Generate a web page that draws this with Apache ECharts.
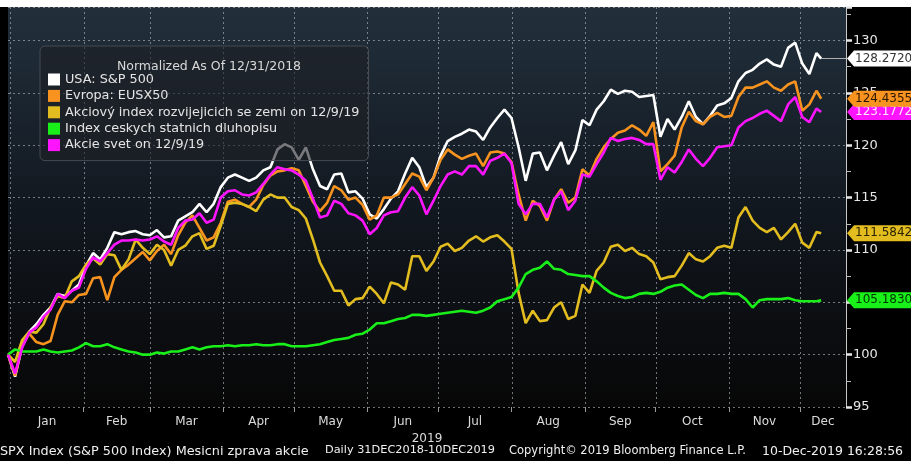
<!DOCTYPE html>
<html>
<head>
<meta charset="utf-8">
<script src="https://cdn.jsdelivr.net/npm/echarts@6/dist/echarts.min.js"></script>
<style>
html, body { margin: 0; padding: 0; background: #000; }
#chart { width: 911px; height: 461px; }
</style>
</head>
<body>
<div id="chart"></div>
<script>
// dates (every 3 days, last point 10 Dec)
var dates = ['2018-12-31',
	'2019-01-03','2019-01-06','2019-01-09','2019-01-12','2019-01-15','2019-01-18','2019-01-21','2019-01-24','2019-01-27','2019-01-30',
	'2019-02-02','2019-02-05','2019-02-08','2019-02-11','2019-02-14','2019-02-17','2019-02-20','2019-02-23','2019-02-26',
	'2019-03-01','2019-03-04','2019-03-07','2019-03-10','2019-03-13','2019-03-16','2019-03-19','2019-03-22','2019-03-25','2019-03-28','2019-03-31',
	'2019-04-03','2019-04-06','2019-04-09','2019-04-12','2019-04-15','2019-04-18','2019-04-21','2019-04-24','2019-04-27','2019-04-30',
	'2019-05-03','2019-05-06','2019-05-09','2019-05-12','2019-05-15','2019-05-18','2019-05-21','2019-05-24','2019-05-27','2019-05-30',
	'2019-06-02','2019-06-05','2019-06-08','2019-06-11','2019-06-14','2019-06-17','2019-06-20','2019-06-23','2019-06-26','2019-06-29',
	'2019-07-02','2019-07-05','2019-07-08','2019-07-11','2019-07-14','2019-07-17','2019-07-20','2019-07-23','2019-07-26','2019-07-29',
	'2019-08-01','2019-08-04','2019-08-07','2019-08-10','2019-08-13','2019-08-16','2019-08-19','2019-08-22','2019-08-25','2019-08-28','2019-08-31',
	'2019-09-03','2019-09-06','2019-09-09','2019-09-12','2019-09-15','2019-09-18','2019-09-21','2019-09-24','2019-09-27','2019-09-30',
	'2019-10-03','2019-10-06','2019-10-09','2019-10-12','2019-10-15','2019-10-18','2019-10-21','2019-10-24','2019-10-27','2019-10-30',
	'2019-11-02','2019-11-05','2019-11-08','2019-11-11','2019-11-14','2019-11-17','2019-11-20','2019-11-23','2019-11-26','2019-11-29',
	'2019-12-02','2019-12-05','2019-12-08','2019-12-10'];

// USA: S&P 500
var spx = [100.0,
	97.9,100.8,102.2,102.9,103.8,104.5,105.8,105.6,106.1,106.7,
	108.5,109.7,109.1,110.2,111.7,111.5,111.7,111.8,111.5,
	111.4,111.9,111.2,111.3,112.8,113.2,113.6,114.4,113.6,114.4,116.0,
	116.9,117.2,116.9,116.6,116.9,117.6,117.9,119.6,120.1,119.8,
	118.6,119.8,117.7,116.1,115.8,117.2,117.3,115.5,115.6,114.9,
	113.4,113.0,113.9,114.9,115.6,117.3,118.8,117.9,116.0,116.9,
	119.0,120.4,120.8,121.1,121.5,121.3,120.5,121.7,122.6,123.4,
	122.6,119.8,116.6,119.2,119.3,117.6,119.0,120.3,118.2,119.5,122.4,
	121.9,123.4,124.2,125.3,124.9,125.2,125.1,124.6,124.7,124.8,
	120.8,122.5,121.5,122.7,124.2,122.7,122.0,122.8,123.8,124.0,
	124.5,126.1,126.9,127.2,127.8,128.2,127.7,127.5,129.3,129.8,
	127.8,126.8,128.8,128.2720];

// Evropa: EUSX50
var eusx50 = [100.0,
	98.0,100.9,102.0,101.2,101.0,101.3,103.8,105.1,105.0,105.7,
	105.8,107.3,107.4,105.2,107.4,108.1,108.6,109.2,109.8,
	109.0,109.9,110.5,109.6,111.4,112.6,113.3,112.1,110.9,111.2,112.6,
	114.6,114.8,114.4,114.1,114.8,116.2,117.1,117.5,117.6,117.8,
	117.6,116.1,114.6,113.7,114.5,116.1,115.7,114.8,115.0,114.3,
	112.9,113.3,115.0,115.0,115.3,116.3,117.3,117.0,115.7,116.9,
	118.6,119.6,119.1,118.7,119.0,119.2,118.0,119.3,119.4,119.2,
	118.4,115.3,112.8,114.7,114.2,112.8,114.8,115.8,114.5,115.0,117.7,
	117.1,118.7,119.8,120.6,121.2,121.4,121.9,121.5,120.9,122.2,
	117.5,118.2,119.0,121.7,123.2,122.3,122.0,122.7,123.1,122.7,
	122.8,124.6,125.5,125.5,125.8,126.1,125.5,125.2,125.8,126.1,
	123.3,123.9,125.2,124.4355];

// Akciovy index rozvijejicich se zemi
var emIndex = [100.0,
	99.3,101.4,102.2,102.1,102.9,104.5,105.6,105.4,107.0,107.5,
	108.6,109.2,108.6,109.6,109.5,108.1,109.1,111.0,110.2,
	109.6,110.5,110.0,108.5,110.0,110.4,111.3,111.6,110.1,110.4,112.3,
	114.4,114.5,114.4,114.1,113.7,114.8,115.3,115.0,115.0,114.1,
	113.8,113.0,111.0,108.8,107.5,106.1,106.1,104.7,105.3,105.4,
	106.5,105.8,104.9,106.9,106.7,106.2,109.4,109.4,108.0,108.9,
	110.3,110.6,109.9,110.2,110.9,111.3,110.8,111.2,111.4,110.8,
	110.1,105.9,103.0,104.2,103.2,103.3,104.5,105.0,103.4,103.7,106.7,
	105.9,108.0,108.8,110.3,110.5,109.9,110.2,109.6,109.4,108.8,
	107.2,107.4,107.5,108.5,109.7,109.1,108.9,109.4,110.2,110.4,
	110.2,113.1,114.1,112.8,112.1,111.7,112.1,111.0,111.7,112.5,
	110.7,110.2,111.7,111.5842];

// Index ceskych statnich dluhopisu
var czBonds = [100.0,
	100.5,100.3,100.3,100.3,100.5,100.3,100.2,100.3,100.4,100.7,
	101.1,100.8,100.8,101.0,100.7,100.5,100.3,100.2,100.0,
	100.0,100.2,100.1,100.3,100.3,100.5,100.7,100.5,100.7,100.8,100.8,
	100.9,100.8,100.9,100.9,101.0,100.9,100.9,101.0,101.0,100.8,
	100.8,100.8,100.9,101.0,101.2,101.4,101.5,101.6,101.9,102.0,
	102.4,103.0,103.0,103.2,103.4,103.5,103.8,103.8,103.7,103.8,
	103.9,104.0,104.1,104.2,104.1,104.0,104.2,104.5,105.1,105.3,
	105.5,106.4,107.7,108.1,108.3,108.9,108.2,108.1,107.7,107.6,107.5,
	107.5,107.0,106.4,105.9,105.6,105.4,105.5,105.8,105.9,105.8,
	106.0,106.4,106.6,106.7,106.2,105.7,105.4,105.8,105.8,105.9,
	105.8,105.8,105.3,104.5,105.2,105.3,105.3,105.3,105.4,105.2,
	105.1,105.1,105.1,105.1830];

// Akcie svet
var worldEq = [100.0,
	98.2,100.7,102.1,102.6,103.6,104.3,105.8,105.4,106.1,106.4,
	108.2,109.3,108.9,109.7,110.5,110.9,110.9,111.0,110.9,
	111.0,111.3,110.8,110.5,112.1,112.8,112.9,113.5,112.6,112.9,115.0,
	115.6,115.7,115.3,115.2,115.5,116.3,117.2,117.9,117.7,117.6,
	117.2,116.6,114.9,113.1,113.3,114.7,114.4,113.5,113.3,112.8,
	111.5,112.1,113.3,113.6,113.7,115.0,116.0,115.2,113.4,114.7,
	116.1,117.2,117.5,117.2,118.0,118.0,117.2,118.5,118.8,119.2,
	118.3,114.4,113.4,114.4,114.4,113.1,114.8,115.6,113.8,114.7,117.2,
	117.0,118.2,119.3,120.7,120.4,120.6,120.7,120.5,120.1,120.1,
	116.7,117.9,117.4,118.4,119.6,118.7,118.0,118.8,119.8,119.9,
	120.0,121.7,122.3,122.6,123.0,123.3,122.8,122.3,123.9,124.6,
	122.7,122.2,123.5,123.1772];

var seriesNames = ['USA: S&P 500', 'Evropa: EUSX50', 'Akciový index rozvijejicich se zemi on 12/9/19',
	'Index ceskych statnich dluhopisu', 'Akcie svet on 12/9/19'];
var seriesValues = [spx, eusx50, emIndex, czBonds, worldEq];
var seriesColors = ['#ffffff', '#f7931e', '#e3bd1f', '#19f019', '#ff14ff'];
var tagTextColors = ['#333333', '#2a1600', '#2a2200', '#003300', '#ffe8ff'];
var tagZ = [7, 9, 6, 6, 8];
var monthNames = ['Jan', 'Feb', 'Mar', 'Apr', 'May', 'Jun', 'Jul', 'Aug', 'Sep', 'Oct', 'Nov', 'Dec'];
var yearLabel = '2019';
var legendTitle = 'Normalized As Of 12/31/2018';
var footerParts = ['SPX Index (S&P 500 Index) Mesicni zprava akcie', 'Daily 31DEC2018-10DEC2019',
	'Copyright© 2019 Bloomberg Finance L.P.', '10-Dec-2019 16:28:56'];

var FONT = 'DejaVu Sans';
var Y_MIN = 95, Y_MAX = 133.2;

// 'YYYY-MM-DD' -> timestamp (local)
function toTime(s) {
	var p = s.split('-');
	return new Date(+p[0], +p[1] - 1, +p[2]).getTime();
}
var xMin = toTime('2018-12-31');
var xMax = new Date(2019, 11, 20, 12).getTime();

// month boundaries for ticks / grid lines, month centres for labels
var monthStarts = [];
for (var m = 0; m < 12; m++) monthStarts.push(new Date(2019, m, 1).getTime());
var monthMids = [];
for (var m = 0; m < 12; m++) {
	var next = m < 11 ? monthStarts[m + 1] : xMax;
	monthMids.push((monthStarts[m] + next) / 2);
}

var gridColor = 'rgba(185,190,198,0.6)';
var gridLine = { color: gridColor, width: 1, type: [2, 3] };
var lastTime = toTime(dates[dates.length - 1]);

var series = [];

// vertical dotted lines at month starts (axis splitLine ignores customValues)
series.push({
	type: 'custom',
	silent: true,
	z: 3,
	data: monthStarts.map(function(t) { return [t, Y_MIN]; }),
	encode: { x: 0, y: 1 },
	renderItem: function(params, api) {
		var p = api.coord([api.value(0), Y_MIN]);
		var cs = params.coordSys;
		var x = Math.round(p[0]) + 0.5;
		return {
			type: 'line',
			shape: { x1: x, y1: cs.y, x2: x, y2: cs.y + cs.height },
			style: { stroke: gridColor, lineWidth: 1, lineDash: [2, 3] }
		};
	}
});

for (var i = 0; i < seriesNames.length; i++) {
	var vals = seriesValues[i];
	var last = vals[vals.length - 1];
	var s = {
		name: seriesNames[i],
		type: 'line',
		showSymbol: false,
		clip: false,
		z: 4,
		data: dates.map(function(d, k) { return [toTime(d), vals[k]]; }),
		itemStyle: { color: seriesColors[i] },
		lineStyle: { color: seriesColors[i], width: 2.6 },
		markPoint: {
			silent: true,
			z: tagZ[i],
			symbol: 'path://M0,8 L7,0 L90,0 L90,16 L7,16 Z',
			symbolSize: [90, 16],
			symbolKeepAspect: false,
			symbolOffset: [46, 0],
			itemStyle: { color: seriesColors[i] },
			label: {
				show: true,
				position: [8, '50%'],
				align: 'left',
				verticalAlign: 'middle',
				color: tagTextColors[i],
				fontFamily: FONT,
				fontSize: 12,
				formatter: last.toFixed(4)
			},
			data: [{ coord: [xMax, last] }]
		}
	};
	if (i == 0) {
		// connector from the last point to the tag
		s.markLine = {
			silent: true,
			symbol: ['none', 'none'],
			label: { show: false },
			lineStyle: { color: '#b0b0b0', width: 1, type: 'solid' },
			data: [[{ coord: [lastTime, last] }, { coord: [xMax, last] }]]
		};
	}
	series.push(s);
}

var footerFont = ['12.8px "DejaVu Sans"', '11.3px "DejaVu Sans"', '11.5px "DejaVu Sans"', '12.5px "DejaVu Sans"'];
var footerLeft = [0, 325, 509, 762];
var graphics = [{ type: 'rect', left: 0, top: 0, shape: { width: 911, height: 7 }, style: { fill: '#ffffff' } }];
for (var f = 0; f < footerParts.length; f++) {
	graphics.push({ type: 'text', left: footerLeft[f], top: 445, style: { text: footerParts[f], fill: '#f0f0f0', font: footerFont[f] } });
}

var myChart = echarts.init(document.getElementById('chart'));
var options = {
	backgroundColor: '#000000',
	animation: false,
	textStyle: { fontFamily: FONT },
	grid: {
		left: 8, right: 65, top: 7, bottom: 54,
		show: true,
		borderWidth: 0,
		backgroundColor: new echarts.graphic.LinearGradient(0, 0, 0, 1, [
			{ offset: 0, color: '#22303c' },
			{ offset: 0.5, color: '#121820' },
			{ offset: 1, color: '#070707' }
		])
	},
	title: {
		text: legendTitle,
		left: 204,
		top: 55,
		textAlign: 'center',
		z: 12,
		textStyle: { color: '#d8d8d8', fontSize: 12.5, fontWeight: 'normal', fontFamily: FONT }
	},
	legend: {
		orient: 'vertical',
		left: 40,
		top: 46,
		z: 11,
		padding: [27, 9, 9, 8],
		itemWidth: 12,
		itemHeight: 12,
		itemGap: 3.4,
		icon: 'rect',
		backgroundColor: 'rgba(30,32,36,0.6)',
		borderColor: '#474b52',
		borderWidth: 1,
		borderRadius: 5,
		selectedMode: false,
		textStyle: { color: '#e4e4e4', fontSize: 12.8, fontFamily: FONT },
		data: seriesNames
	},
	xAxis: {
		type: 'value',
		min: xMin,
		max: xMax,
		axisLine: { show: false },
		axisTick: { show: true, customValues: monthStarts, length: 5, lineStyle: { color: '#9a9a9a' } },
		axisLabel: {
			customValues: monthMids,
			color: '#dcdcdc',
			fontSize: 12,
			fontFamily: FONT,
			margin: 9,
			formatter: function(v) { return monthNames[new Date(v).getMonth()]; }
		},
		splitLine: { show: false },
		name: yearLabel,
		nameLocation: 'middle',
		nameGap: 26,
		nameTextStyle: { color: '#dcdcdc', fontSize: 12, fontFamily: FONT }
	},
	yAxis: {
		type: 'value',
		position: 'right',
		min: Y_MIN,
		max: Y_MAX,
		interval: 5,
		axisLine: { show: true, lineStyle: { color: '#c8c8c8', width: 1 } },
		axisTick: { show: true, length: 6, lineStyle: { color: '#e8e8e8', width: 2.5 } },
		minorTick: { show: true, splitNumber: 2, length: 5, lineStyle: { color: '#bdbdbd' } },
		axisLabel: { color: '#e6e6e6', fontSize: 13, fontFamily: FONT, margin: 7, showMaxLabel: false },
		splitLine: { show: true, lineStyle: gridLine }
	},
	graphic: graphics,
	series: series
};
myChart.setOption(options);
</script>
</body>
</html>
